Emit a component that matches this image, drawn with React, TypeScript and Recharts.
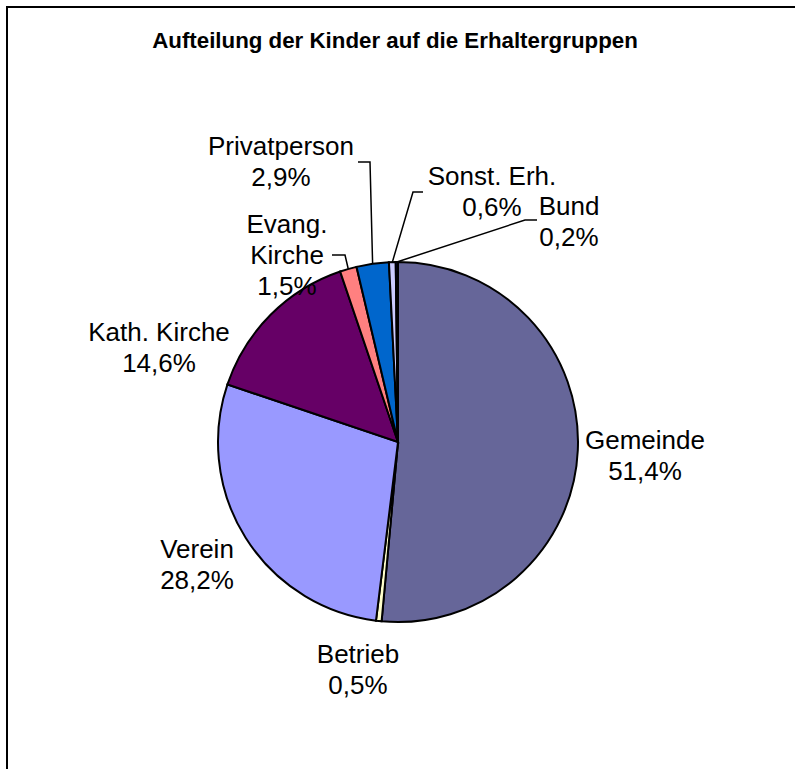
import React from 'react';
import { PieChart, Pie, Cell } from 'recharts';

const categories = ['Gemeinde', 'Betrieb', 'Verein', 'Kath. Kirche', 'Evang. Kirche', 'Privatperson', 'Sonst. Erh.', 'Bund'];
const shares = [51.4, 0.5, 28.2, 14.6, 1.5, 2.9, 0.6, 0.2];
const labelNameLines: Record<string, string[]> = { 'Evang. Kirche': ['Evang.', 'Kirche'] };
const colors = ['#666699', '#FFFFCC', '#9999FF', '#660066', '#FF8080', '#0066CC', '#CCCCFF', '#000080'];
const title = 'Aufteilung der Kinder auf die Erhaltergruppen';

const data = categories.map((name, i) => ({ name, value: shares[i] }));

// label placement relative to pie centre (text centre x, first baseline y, optional leader elbow points)
const LABEL_LAYOUT: Record<string, { dx: number; dy: number; leader?: number[][] }> = {
  'Gemeinde': { dx: 247, dy: 7 },
  'Betrieb': { dx: -40, dy: 221 },
  'Verein': { dx: -201, dy: 116 },
  'Kath. Kirche': { dx: -239, dy: -101 },
  'Evang. Kirche': { dx: -111, dy: -209, leader: [[-53, -187], [-66, -187]] },
  'Privatperson': { dx: -117, dy: -287, leader: [[-28, -280], [-40, -280]] },
  'Sonst. Erh.': { dx: 94, dy: -257, leader: [[15, -250], [25, -250]] },
  'Bund': { dx: 171, dy: -227, leader: [[127, -222], [139, -222]] },
};

const FONT = '"Liberation Sans", Arial, sans-serif';
const LINE_H = 31;
const RAD = Math.PI / 180;

const renderLabel = (props: any) => {
  const cx = Number(props.cx);
  const cy = Number(props.cy);
  const r = Number(props.outerRadius);
  const mid = Number(props.midAngle);
  const name = props.name ?? props.payload?.name;
  const value = Number(props.value ?? props.payload?.value);
  const layout = LABEL_LAYOUT[name];
  if (!layout) return null;
  const lines = [...(labelNameLines[name] || [name]), value.toFixed(1).replace('.', ',') + '%'];
  const ax = cx + r * Math.cos(-mid * RAD);
  const ay = cy + r * Math.sin(-mid * RAD);
  let leader = null;
  if (layout.leader) {
    const pts = [[ax, ay], ...layout.leader.map(([x, y]) => [cx + x, cy + y])];
    leader = (
      <polyline
        points={pts.map((p) => p.join(',')).join(' ')}
        fill="none"
        stroke="#000"
        strokeWidth={1.5}
      />
    );
  }
  return (
    <g key={`lbl-${name}`}>
      {leader}
      <text
        x={cx + layout.dx}
        y={cy + layout.dy}
        textAnchor="middle"
        fontFamily={FONT}
        fontSize={26}
        fill="#000"
      >
        {lines.map((l, i) => (
          <tspan key={i} x={cx + layout.dx} y={cy + layout.dy + i * LINE_H}>
            {l}
          </tspan>
        ))}
      </text>
    </g>
  );
};

export default function App() {
  return (
    <div style={{ position: 'absolute', left: 0, top: 0, width: 795, height: 769, background: '#fff', overflow: 'hidden' }}>
      <svg width={795} height={769} style={{ position: 'absolute', left: 0, top: 0 }}>
        <rect x={7} y={7} width={900} height={900} fill="none" stroke="#000" strokeWidth={2} />
        <text x={395} y={48} textAnchor="middle" fontFamily={FONT} fontWeight="bold" fontSize={22.3} fill="#000">
          {title}
        </text>
      </svg>
      <div style={{ position: 'absolute', left: 0, top: 0 }}>
        <PieChart width={795} height={769} margin={{ top: 0, right: 0, bottom: 0, left: 0 }}>
          <Pie
            data={data}
            dataKey="value"
            nameKey="name"
            cx={398}
            cy={442}
            outerRadius={180}
            startAngle={90}
            endAngle={-270}
            stroke="#000"
            strokeWidth={2}
            isAnimationActive={false}
            labelLine={false}
            label={renderLabel}
          >
            {data.map((d, i) => (
              <Cell key={d.name} fill={colors[i]} />
            ))}
          </Pie>
        </PieChart>
      </div>
    </div>
  );
}
